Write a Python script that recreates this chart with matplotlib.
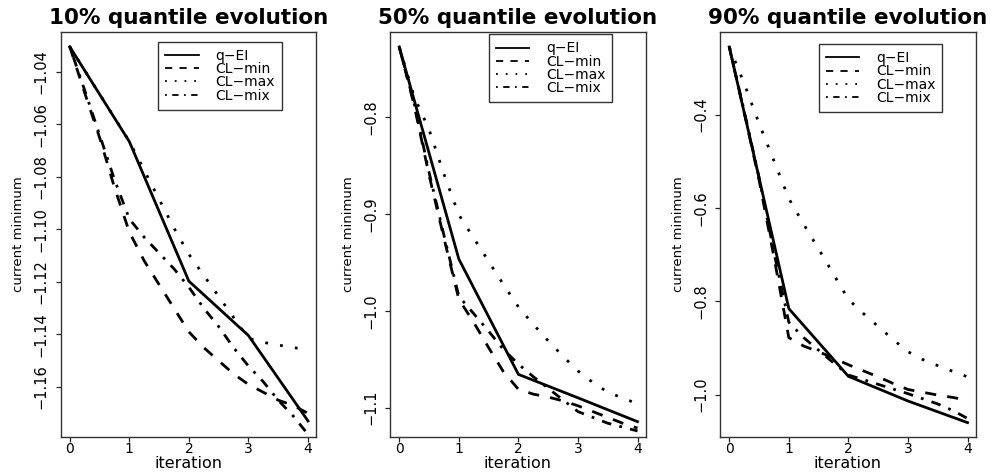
import matplotlib
matplotlib.use('Agg')
import matplotlib.pyplot as plt
from matplotlib.lines import Line2D

# x positions: q-EI per iteration, CL strategies at quarter steps
iters = [0, 1, 2, 3, 4]
steps = [0, 0.25, 0.5, 0.75, 1, 1.25, 1.5, 1.75, 2,
         2.25, 2.5, 2.75, 3, 3.25, 3.5, 3.75, 4]

# 10% quantile
q10_qei = [-1.0305, -1.0666, -1.1197, -1.1404, -1.1729]
q10_min = [-1.0305, -1.048, -1.065, -1.084, -1.101, -1.112, -1.121, -1.130, -1.139,
           -1.145, -1.150, -1.155, -1.159, -1.162, -1.165, -1.167, -1.170]
q10_max = [-1.0305, -1.0395, -1.0485, -1.0575, -1.0665, -1.0775, -1.0885, -1.0995, -1.1095,
           -1.1175, -1.1255, -1.1335, -1.1415, -1.143, -1.144, -1.145, -1.1457]
q10_mix = [-1.0305, -1.047, -1.064, -1.081, -1.096, -1.103, -1.109, -1.115, -1.122,
           -1.130, -1.137, -1.145, -1.152, -1.158, -1.165, -1.171, -1.178]

# 50% quantile
q50_qei = [-0.7278, -0.9466, -1.0656, -1.0898, -1.1144]
q50_min = [-0.728, -0.788, -0.860, -0.925, -0.988, -1.012, -1.038, -1.063, -1.081,
           -1.086, -1.089, -1.093, -1.098, -1.104, -1.110, -1.116, -1.121]
q50_max = [-0.728, -0.779, -0.813, -0.859, -0.901, -0.925, -0.949, -0.973, -0.996,
           -1.014, -1.031, -1.047, -1.062, -1.074, -1.084, -1.090, -1.096]
q50_mix = [-0.728, -0.786, -0.857, -0.922, -0.985, -1.003, -1.021, -1.040, -1.055,
           -1.068, -1.080, -1.092, -1.104, -1.110, -1.116, -1.120, -1.124]

# 90% quantile
q90_qei = [-0.2551, -0.8157, -0.9608, -1.0137, -1.060]
q90_min = [-0.255, -0.395, -0.540, -0.705, -0.878, -0.896, -0.908, -0.922, -0.936,
           -0.949, -0.962, -0.976, -0.989, -0.995, -1.001, -1.006, -1.012]
q90_max = [-0.255, -0.333, -0.419, -0.499, -0.580, -0.635, -0.688, -0.742, -0.796,
           -0.826, -0.854, -0.882, -0.908, -0.925, -0.938, -0.950, -0.962]
q90_mix = [-0.255, -0.392, -0.535, -0.695, -0.845, -0.878, -0.905, -0.932, -0.958,
           -0.968, -0.978, -0.988, -0.998, -1.009, -1.020, -1.034, -1.051]

titles = ['10% quantile evolution', '50% quantile evolution', '90% quantile evolution']
legend_labels = ['q\u2212EI', 'CL\u2212min', 'CL\u2212max', 'CL\u2212mix']
xtick_vals = [0, 1, 2, 3, 4]
yticks10 = [-1.16, -1.14, -1.12, -1.10, -1.08, -1.06, -1.04]
yticks50 = [-1.1, -1.0, -0.9, -0.8]
yticks90 = [-1.0, -0.8, -0.6, -0.4]
ylabels10 = ['\u22121.16', '\u22121.14', '\u22121.12', '\u22121.10', '\u22121.08', '\u22121.06', '\u22121.04']
ylabels50 = ['\u22121.1', '\u22121.0', '\u22120.9', '\u22120.8']
ylabels90 = ['\u22121.0', '\u22120.8', '\u22120.6', '\u22120.4']

panels = [
    (q10_qei, q10_min, q10_max, q10_mix, yticks10, ylabels10, (-1.1790, -1.0249), 0.0607, (0.383, 0.976)),
    (q50_qei, q50_min, q50_max, q50_mix, yticks50, ylabels50, (-1.1302, -0.7124), 0.3912, (0.387, 0.994)),
    (q90_qei, q90_min, q90_max, q90_mix, yticks90, ylabels90, (-1.0908, -0.2230), 0.7222, (0.387, 0.970)),
]

plt.rcParams['font.family'] = ['DejaVu Sans']

lw = 2.0
dash_min = (4, 4)
dash_max = (1, 4.4)
dash_mix = (1, 3, 3.5, 3)

fig = plt.figure(figsize=(9.97, 4.72), dpi=100)

for i, (qei, cmin, cmax, cmix, yt, ytl, ylim, left, legpos) in enumerate(panels):
    ax = fig.add_axes([left, 0.0742, 0.2563, 0.858])
    ax.plot(iters, qei, color='black', lw=lw, solid_joinstyle='miter')
    ax.plot(steps, cmin, color='black', lw=lw, dashes=dash_min)
    ax.plot(steps, cmax, color='black', lw=lw, dashes=dash_max)
    ax.plot(steps, cmix, color='black', lw=lw, dashes=dash_mix)

    ax.set_xlim(-0.155, 4.135)
    ax.set_ylim(*ylim)
    ax.set_xticks(xtick_vals)
    ax.set_xticklabels([str(v) for v in xtick_vals], fontsize=10)
    ax.set_yticks(yt)
    ax.set_yticklabels(ytl, fontsize=10.5, rotation=90, va='center')
    ax.tick_params(axis='both', direction='out', length=3.5, width=0.9, color='#222222')
    ax.tick_params(axis='x', pad=0)
    ax.tick_params(axis='y', pad=5)
    for s in ax.spines.values():
        s.set_linewidth(1.0)
        s.set_color('#333333')

    ax.set_title(titles[i], fontsize=15.5, fontweight='bold', pad=6)
    ax.set_xlabel('iteration', fontsize=11.5)
    ax.xaxis.set_label_coords(0.5, -0.0845)
    ax.xaxis.label.set_va('bottom')
    ax.set_ylabel('current minimum', fontsize=9.5)
    ax.yaxis.set_label_coords(-0.164, 0.5)
    ax.yaxis.label.set_va('center')

    handles = [Line2D([], [], color='black', lw=1.3),
               Line2D([], [], color='black', lw=1.3, dashes=dash_min),
               Line2D([], [], color='black', lw=1.3, dashes=dash_max),
               Line2D([], [], color='black', lw=1.3, dashes=dash_mix)]
    leg = ax.legend(handles, legend_labels, loc='upper left', bbox_to_anchor=legpos,
                    borderaxespad=0, fontsize=10, labelspacing=-0.05, handlelength=2.4,
                    handletextpad=1.2, borderpad=0.5, fancybox=False, framealpha=1)
    leg.get_frame().set_edgecolor('#333333')
    leg.get_frame().set_linewidth(1.0)

fig.savefig('out.png', dpi=100)
